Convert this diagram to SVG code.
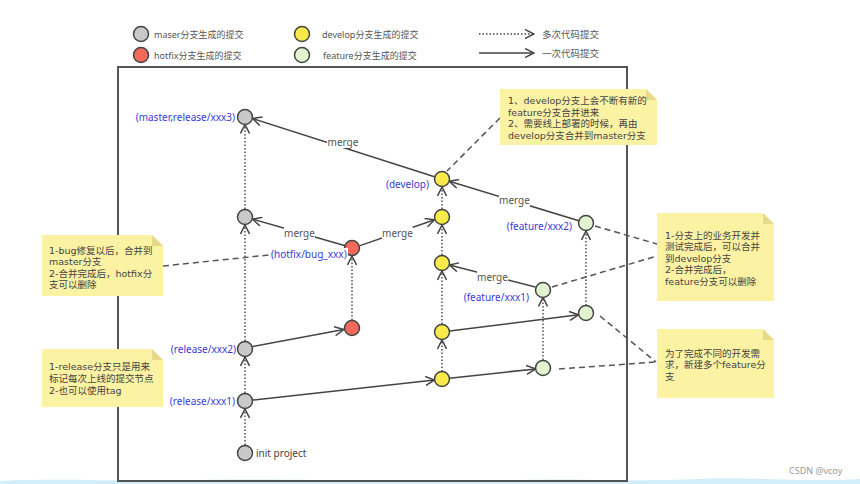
<svg xmlns="http://www.w3.org/2000/svg" width="860" height="484" viewBox="0 0 860 484">
<defs>
<marker id="ah" viewBox="0 0 10 10" refX="9.5" refY="5" markerWidth="10" markerHeight="10" markerUnits="userSpaceOnUse" orient="auto">
<path d="M0.5,0.5 L9.5,5 L0.5,9.5" fill="none" stroke="#444" stroke-width="1.5" stroke-dasharray="none"/>
</marker>
<style>
text{font-family:"Noto Sans","Noto Sans CJK SC",sans-serif;}
.lg{font-size:9px;fill:#555;}
.lb{font-size:10px;fill:#3a3ad8;}
.mg{font-size:10px;fill:#555;text-anchor:middle;}
.nt{font-size:10px;fill:#444;}
.nn{font-family:"DejaVu Sans","Noto Sans CJK SC",sans-serif;font-size:9.5px;fill:#444;}
.n{stroke:#444;stroke-width:1.5;}
.g{fill:#c9c9c9;}
.r{fill:#f26a5c;}
.y{fill:#f7ea4a;}
.f{fill:#e2f3cf;}
.sol{stroke:#444;stroke-width:1.5;fill:none;marker-end:url(#ah);}
.dot{stroke:#444;stroke-width:1.4;fill:none;stroke-dasharray:1.5 2;marker-end:url(#ah);}
.dash{stroke:#555;stroke-width:1.5;fill:none;stroke-dasharray:6 4;}
.note{fill:#fcf2a4;}
.fold{fill:#e6d98c;}
.wb{fill:#fff;}
</style>
</defs>
<rect width="860" height="484" fill="#fff"/>
<path d="M0,484 L0,481 C60,478 120,482 200,480 C300,478 400,483 520,480 C580,478 620,482 700,479 C760,477 800,482 860,479 L860,484 Z" fill="#d3eefa"/>

<g id="legend">
<circle class="n g" cx="141" cy="34" r="7.5"/>
<text class="lg" x="154" y="37.5">maser分支生成的提交</text>
<circle class="n r" cx="141" cy="55" r="7.5"/>
<text class="lg" x="154" y="58.5">hotfix分支生成的提交</text>
<circle class="n y" cx="302" cy="34" r="7.5"/>
<text class="lg" x="322" y="37.5">develop分支生成的提交</text>
<circle class="n f" cx="302" cy="55" r="7.5"/>
<text class="lg" x="323" y="58.5">feature分支生成的提交</text>
<line class="dot" x1="479" y1="34" x2="534" y2="34"/>
<text class="lg" x="542" y="37.5" style="font-size:9.5px">多次代码提交</text>
<line class="sol" x1="479" y1="53" x2="534" y2="53"/>
<text class="lg" x="542" y="56.5" style="font-size:9.5px">一次代码提交</text>
</g>

<rect x="118" y="67" width="509" height="414" fill="none" stroke="#555" stroke-width="2"/>

<g id="connectors">
<line class="dot" x1="245" y1="445" x2="245" y2="409"/>
<line class="dot" x1="245" y1="393" x2="245" y2="357"/>
<line class="dot" x1="245" y1="341" x2="245" y2="225"/>
<line class="dot" x1="245" y1="209" x2="245" y2="124.5"/>
<line class="dot" x1="352" y1="320" x2="352" y2="256"/>
<line class="dot" x1="442" y1="371.5" x2="442" y2="340"/>
<line class="dot" x1="442" y1="324" x2="442" y2="271"/>
<line class="dot" x1="442" y1="255" x2="442" y2="225"/>
<line class="dot" x1="442" y1="209" x2="442" y2="187"/>
<line class="dot" x1="586" y1="305.5" x2="586" y2="231"/>
<line class="dot" x1="543" y1="360" x2="543" y2="297.5"/>
<line class="sol" x1="434.5" y1="176.7" x2="252.6" y2="118.5"/>
<line class="sol" x1="578.8" y1="220.7" x2="449.3" y2="181.2"/>
<line class="sol" x1="345.3" y1="245.8" x2="252.7" y2="219.2"/>
<line class="sol" x1="360.1" y1="245.6" x2="434.5" y2="219.7"/>
<line class="sol" x1="252.8" y1="346.5" x2="343.7" y2="329.5"/>
<line class="sol" x1="253" y1="400.1" x2="434.5" y2="380"/>
<line class="sol" x1="535.3" y1="287.1" x2="449.3" y2="265"/>
<line class="sol" x1="449.5" y1="331.1" x2="578.5" y2="314.8"/>
<line class="sol" x1="449.5" y1="378.2" x2="535.5" y2="368.9"/>
<line class="dash" x1="500" y1="118" x2="447" y2="171"/>
<line class="dash" x1="163" y1="266" x2="269" y2="255"/>
<line class="dash" x1="595" y1="226" x2="657" y2="244"/>
<line class="dash" x1="552" y1="287" x2="657" y2="256"/>
<line class="dash" x1="600" y1="316" x2="656" y2="362"/>
<line class="dash" x1="559" y1="369" x2="656" y2="362"/>
<rect class="wb" x="327" y="136" width="31" height="12"/>
<text class="mg" x="343" y="145.5">merge</text>
<rect class="wb" x="499" y="195" width="31" height="12"/>
<text class="mg" x="514.5" y="204">merge</text>
<rect class="wb" x="284" y="227" width="31" height="12"/>
<text class="mg" x="299.5" y="236.5">merge</text>
<rect class="wb" x="382" y="227" width="31" height="12"/>
<text class="mg" x="397.5" y="236.5">merge</text>
<rect class="wb" x="477" y="271" width="31" height="12"/>
<text class="mg" x="492.5" y="280.5">merge</text>
</g>

<g id="master-xxx3"><circle class="n g" cx="245" cy="117" r="7.5"/><text class="lb" x="235" y="120.5" text-anchor="end">(master,release/xxx3)</text></g>
<g id="master-2"><circle class="n g" cx="245" cy="217" r="7.5"/></g>
<g id="release-xxx2"><circle class="n g" cx="245" cy="349" r="7.5"/><text class="lb" x="236" y="352.5" text-anchor="end">(release/xxx2)</text></g>
<g id="release-xxx1"><circle class="n g" cx="245" cy="401" r="7.5"/><text class="lb" x="235" y="405" text-anchor="end">(release/xxx1)</text></g>
<g id="init"><circle class="n g" cx="245" cy="453" r="7.5"/><text class="nt" x="256" y="456.5">init project</text></g>

<g id="hotfix-bug"><circle class="n r" cx="352" cy="248" r="7.5"/><rect class="wb" x="269" y="248" width="79" height="12"/><text class="lb" x="271" y="257.5">(hotfix/bug_xxx)</text></g>
<g id="hotfix-1"><circle class="n r" cx="352" cy="328" r="7.5"/></g>

<g id="develop-top"><circle class="n y" cx="442" cy="179" r="7.5"/><text class="lb" x="429" y="187.5" text-anchor="end">(develop)</text></g>
<g id="develop-4"><circle class="n y" cx="442" cy="217" r="7.5"/></g>
<g id="develop-3"><circle class="n y" cx="442" cy="263" r="7.5"/></g>
<g id="develop-2"><circle class="n y" cx="442" cy="332" r="7.5"/></g>
<g id="develop-1"><circle class="n y" cx="442" cy="379" r="7.5"/></g>

<g id="feature-xxx2"><circle class="n f" cx="586" cy="223" r="7.5"/><text class="lb" x="572" y="229.5" text-anchor="end">(feature/xxx2)</text></g>
<g id="feature-xxx2-base"><circle class="n f" cx="586" cy="313" r="7.5"/></g>
<g id="feature-xxx1"><circle class="n f" cx="543" cy="290" r="7.5"/><text class="lb" x="529" y="300.5" text-anchor="end">(feature/xxx1)</text></g>
<g id="feature-xxx1-base"><circle class="n f" cx="543" cy="368" r="7.5"/></g>

<g id="note-develop">
<path class="note" d="M500,89 H646 L657,100 V145 H500 Z"/><path class="fold" d="M646,89 L646,100 L657,100 Z"/>
<text class="nn"><tspan x="508" y="104">1、develop分支上会不断有新的</tspan><tspan x="508" y="115.5">feature分支合并进来</tspan><tspan x="508" y="127">2、需要线上部署的时候，再由</tspan><tspan x="508" y="138.5">develop分支合并到master分支</tspan></text>
</g>
<g id="note-hotfix">
<path class="note" d="M42,235 H152 L163,246 V296 H42 Z"/><path class="fold" d="M152,235 L152,246 L163,246 Z"/>
<text class="nn"><tspan x="49" y="253.5">1-bug修复以后，合并到</tspan><tspan x="49" y="265">master分支</tspan><tspan x="49" y="276.5">2-合并完成后，hotfix分</tspan><tspan x="49" y="288">支可以删除</tspan></text>
</g>
<g id="note-feature">
<path class="note" d="M657,213 H763 L774,224 V301 H657 Z"/><path class="fold" d="M763,213 L763,224 L774,224 Z"/>
<text class="nn"><tspan x="665" y="238.5">1-分支上的业务开发并</tspan><tspan x="665" y="250">测试完成后，可以合并</tspan><tspan x="665" y="261.5">到develop分支</tspan><tspan x="665" y="273">2-合并完成后，</tspan><tspan x="665" y="284.5">feature分支可以删除</tspan></text>
</g>
<g id="note-release">
<path class="note" d="M42,349 H152 L163,360 V407 H42 Z"/><path class="fold" d="M152,349 L152,360 L163,360 Z"/>
<text class="nn"><tspan x="49" y="369.5">1-release分支只是用来</tspan><tspan x="49" y="381.5">标记每次上线的提交节点</tspan><tspan x="49" y="394">2-也可以使用tag</tspan></text>
</g>
<g id="note-new-feature">
<path class="note" d="M657,329 H763 L774,340 V398 H657 Z"/><path class="fold" d="M763,329 L763,340 L774,340 Z"/>
<text class="nn"><tspan x="665" y="356.5">为了完成不同的开发需</tspan><tspan x="665" y="368">求，新建多个feature分</tspan><tspan x="665" y="379.5">支</tspan></text>
</g>

<text x="789" y="473.5" style="font-size:9px;fill:#999">CSDN @vcoy</text>
</svg>
